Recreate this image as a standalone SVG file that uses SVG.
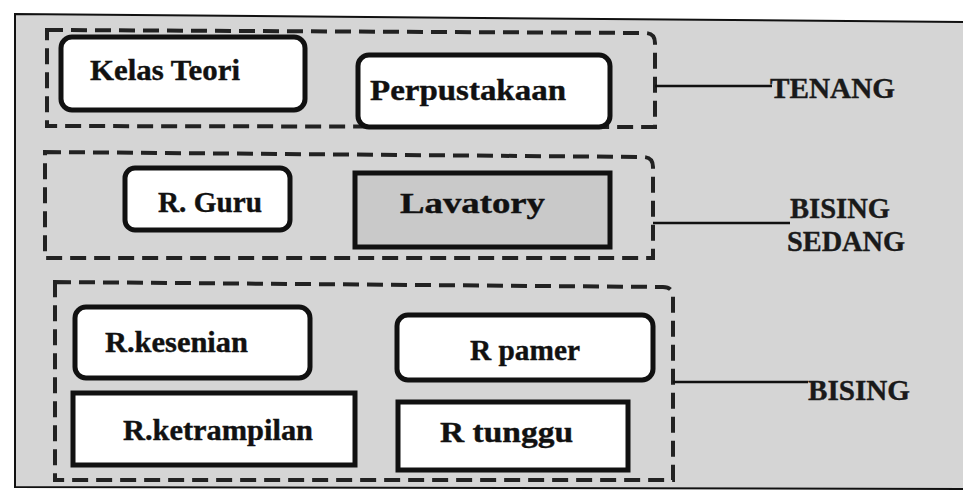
<svg xmlns="http://www.w3.org/2000/svg" width="963" height="498" viewBox="0 0 963 498">
  <defs>
    <style>
      .zone { fill: none; stroke: #222; stroke-width: 4; stroke-dasharray: 16 8; }
      .room { fill: #fff; stroke: #111; stroke-width: 5; }
      .room-grey { fill: #c9c9c9; stroke: #111; stroke-width: 5; }
      .lbl { font-family: "Liberation Serif", "Times New Roman", serif; font-weight: bold; font-size: 30px; fill: #111; stroke: #111; stroke-width: 0.4; }
      .lvl { font-family: "Liberation Serif", "Times New Roman", serif; font-weight: bold; font-size: 29px; fill: #1a1a1a; stroke: #1a1a1a; stroke-width: 0.4; }
      .link { stroke: #111; stroke-width: 2.5; fill: none; }
    </style>
  </defs>

  <!-- page and framed panel -->
  <rect x="0" y="0" width="963" height="498" fill="#ffffff"/>
  <polygon points="15,14 963,22 963,489 15,487" fill="#d5d5d5"/>
  <polyline points="963,22 15,14 15,487 963,489" fill="none" stroke="#111" stroke-width="2"/>

  <!-- noise zones -->
  <g id="zone-tenang">
    <path class="zone" d="M47,30 L645,33 Q655,33 655,43 L655,127 L47,126 Z"/>
  </g>
  <g id="zone-sedang">
    <path class="zone" d="M45,152 L643,157 Q653,157 653,167 L653,258 L45,258 Z"/>
  </g>
  <g id="zone-bising">
    <path class="zone" d="M55,282 L663,287 Q673,287 673,297 L673,480 L55,480 Z"/>
  </g>

  <!-- rooms -->
  <g id="kelas-teori">
    <rect class="room" x="61" y="37" width="244" height="73" rx="11"/>
    <text class="lbl" x="90" y="80" textLength="150" lengthAdjust="spacingAndGlyphs">Kelas Teori</text>
  </g>
  <g id="perpustakaan">
    <rect class="room" x="358" y="55" width="252" height="72" rx="11"/>
    <text class="lbl" x="370" y="100" textLength="196" lengthAdjust="spacingAndGlyphs">Perpustakaan</text>
  </g>
  <g id="r-guru">
    <rect class="room" x="125" y="168" width="165" height="62" rx="10"/>
    <text class="lbl" x="158" y="212" textLength="104" lengthAdjust="spacingAndGlyphs">R. Guru</text>
  </g>
  <g id="lavatory">
    <rect class="room-grey" x="355" y="173" width="255" height="74"/>
    <text class="lbl" x="400" y="213" textLength="145" lengthAdjust="spacingAndGlyphs">Lavatory</text>
  </g>
  <g id="r-kesenian">
    <rect class="room" x="75" y="307" width="235" height="71" rx="11"/>
    <text class="lbl" x="105" y="352" textLength="143" lengthAdjust="spacingAndGlyphs">R.kesenian</text>
  </g>
  <g id="r-pamer">
    <rect class="room" x="397" y="315" width="256" height="65" rx="11"/>
    <text class="lbl" x="470" y="360" textLength="110" lengthAdjust="spacingAndGlyphs">R pamer</text>
  </g>
  <g id="r-ketrampilan">
    <rect class="room" x="73" y="393" width="282" height="72"/>
    <text class="lbl" x="123" y="440" textLength="190" lengthAdjust="spacingAndGlyphs">R.ketrampilan</text>
  </g>
  <g id="r-tunggu">
    <rect class="room" x="398" y="402" width="230" height="68"/>
    <text class="lbl" x="440" y="442" textLength="133" lengthAdjust="spacingAndGlyphs">R tunggu</text>
  </g>

  <!-- zone labels -->
  <g id="label-tenang">
    <text class="lvl" x="770" y="98" textLength="125" lengthAdjust="spacingAndGlyphs">TENANG</text>
  </g>
  <g id="label-bising-sedang">
    <text class="lvl" x="790" y="218" textLength="100" lengthAdjust="spacingAndGlyphs">BISING</text>
    <text class="lvl" x="787" y="251" textLength="118" lengthAdjust="spacingAndGlyphs">SEDANG</text>
  </g>
  <g id="label-bising">
    <text class="lvl" x="808" y="400" textLength="102" lengthAdjust="spacingAndGlyphs">BISING</text>
  </g>

  <!-- leader lines from zones to labels -->
  <g id="connectors">
    <line class="link" x1="655" y1="86" x2="772" y2="86"/>
    <line class="link" x1="653" y1="223" x2="790" y2="223"/>
    <line class="link" x1="673" y1="382" x2="808" y2="382"/>
  </g>
</svg>
